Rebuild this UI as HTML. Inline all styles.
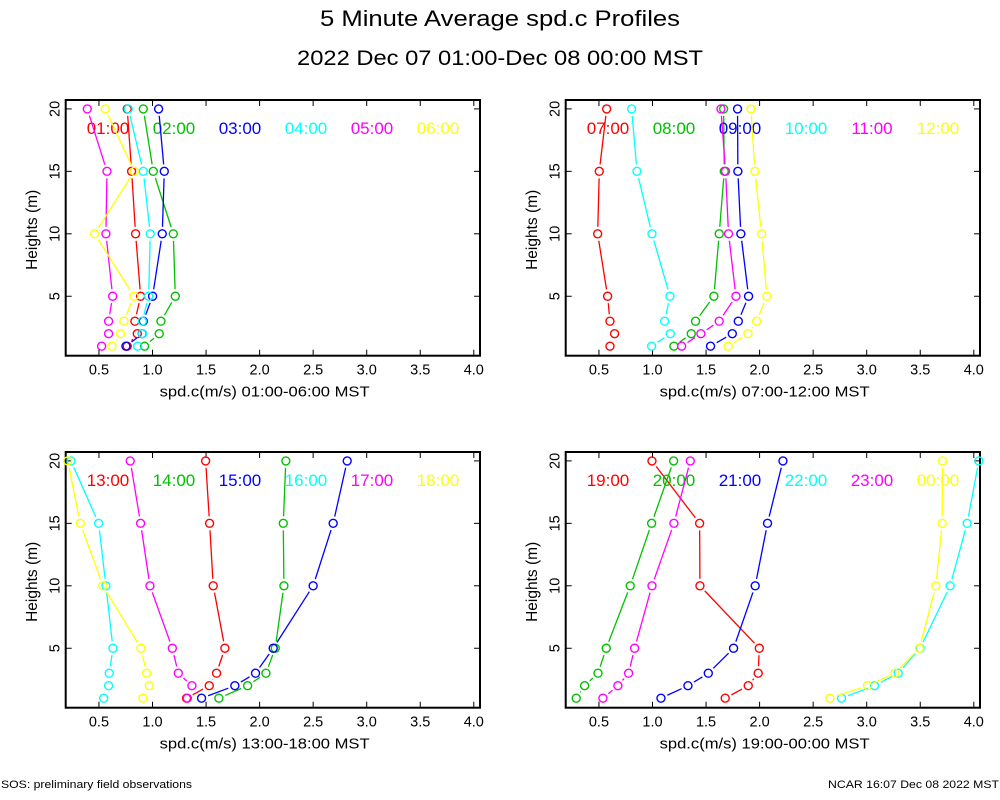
<!DOCTYPE html>
<html><head><meta charset="utf-8">
<style>
html,body{margin:0;padding:0;background:#fff;}
svg{display:block;font-family:"Liberation Sans",sans-serif;}
</style></head>
<body>
<svg id="chart" width="1000" height="800" viewBox="0 0 1000 800" xmlns="http://www.w3.org/2000/svg">
<rect x="0" y="0" width="1000" height="800" fill="#fff"/>
<text x="500" y="26" font-size="22" text-anchor="middle" textLength="360" lengthAdjust="spacingAndGlyphs">5 Minute Average spd.c Profiles</text>
<text x="500" y="65" font-size="21" text-anchor="middle" textLength="406" lengthAdjust="spacingAndGlyphs">2022 Dec 07 01:00-Dec 08 00:00 MST</text>
<text x="1" y="788" font-size="11" textLength="191" lengthAdjust="spacingAndGlyphs">SOS: preliminary field observations</text>
<text x="999" y="788" font-size="11" text-anchor="end" textLength="171" lengthAdjust="spacingAndGlyphs">NCAR 16:07 Dec 08 2022 MST</text>
<g id="plots"></g>
</svg>
<script>
const heights = [1, 2, 3, 5, 10, 15, 20];
const xTicks = [0.5, 1.0, 1.5, 2.0, 2.5, 3.0, 3.5, 4.0];
const xTickLabels = ["0.5", "1.0", "1.5", "2.0", "2.5", "3.0", "3.5", "4.0"];
const yTicks = [5, 10, 15, 20];
const seriesColors = ["#ff0000", "#00c000", "#0000ff", "#00ffff", "#ff00ff", "#ffff00"];

const p1Labels = ["01:00", "02:00", "03:00", "04:00", "05:00", "06:00"];
const p1s1 = [0.764, 0.858, 0.836, 0.889, 0.842, 0.805, 0.764];
const p1s2 = [0.926, 1.063, 1.079, 1.213, 1.194, 1.007, 0.914];
const p1s3 = [0.752, 0.905, 0.914, 1.001, 1.091, 1.110, 1.057];
const p1s4 = [0.861, 0.908, 0.905, 0.964, 0.979, 0.914, 0.774];
const p1s5 = [0.525, 0.590, 0.590, 0.628, 0.565, 0.575, 0.391];
const p1s6 = [0.621, 0.702, 0.733, 0.827, 0.460, 0.830, 0.559];

const p2Labels = ["07:00", "08:00", "09:00", "10:00", "11:00", "12:00"];
const p2s1 = [0.603, 0.646, 0.603, 0.581, 0.488, 0.503, 0.572];
const p2s2 = [1.200, 1.362, 1.402, 1.573, 1.623, 1.670, 1.664];
const p2s3 = [1.542, 1.745, 1.801, 1.897, 1.825, 1.797, 1.794];
const p2s4 = [0.992, 1.166, 1.113, 1.163, 0.995, 0.855, 0.805];
const p2s5 = [1.272, 1.452, 1.623, 1.779, 1.710, 1.682, 1.639];
const p2s6 = [1.707, 1.891, 1.972, 2.068, 2.018, 1.956, 1.919];

const p3Labels = ["13:00", "14:00", "15:00", "16:00", "17:00", "18:00"];
const p3s1 = [1.318, 1.530, 1.598, 1.676, 1.567, 1.533, 1.496];
const p3s2 = [1.620, 1.888, 2.059, 2.146, 2.227, 2.221, 2.245];
const p3s3 = [1.458, 1.769, 1.962, 2.127, 2.500, 2.687, 2.818];
const p3s4 = [0.544, 0.590, 0.596, 0.631, 0.565, 0.497, 0.239];
const p3s5 = [1.325, 1.368, 1.241, 1.185, 0.976, 0.889, 0.792];
const p3s6 = [0.911, 0.970, 0.945, 0.892, 0.537, 0.326, 0.208];

const p4Labels = ["19:00", "20:00", "21:00", "22:00", "23:00", "00:00"];
const p4s1 = [1.679, 1.894, 1.987, 1.997, 1.443, 1.440, 0.995];
const p4s2 = [0.288, 0.366, 0.491, 0.568, 0.792, 0.992, 1.197];
const p4s3 = [1.079, 1.331, 1.521, 1.757, 1.959, 2.074, 2.218];
const p4s4 = [2.765, 3.073, 3.294, 3.499, 3.779, 3.938, 4.047];
const p4s5 = [0.537, 0.677, 0.777, 0.833, 0.995, 1.200, 1.353];
const p4s6 = [2.656, 3.008, 3.263, 3.493, 3.646, 3.705, 3.708];

const panels = [
  {ox:0, oy:0, title:"spd.c(m/s) 01:00-06:00 MST", labels:p1Labels, series:[p1s1,p1s2,p1s3,p1s4,p1s5,p1s6]},
  {ox:500, oy:0, title:"spd.c(m/s) 07:00-12:00 MST", labels:p2Labels, series:[p2s1,p2s2,p2s3,p2s4,p2s5,p2s6]},
  {ox:0, oy:352, title:"spd.c(m/s) 13:00-18:00 MST", labels:p3Labels, series:[p3s1,p3s2,p3s3,p3s4,p3s5,p3s6]},
  {ox:500, oy:352, title:"spd.c(m/s) 19:00-00:00 MST", labels:p4Labels, series:[p4s1,p4s2,p4s3,p4s4,p4s5,p4s6]}
];

const NS = "http://www.w3.org/2000/svg";
const root = document.getElementById("plots");
function mk(tag, attrs, parent){
  const e = document.createElementNS(NS, tag);
  for (const k in attrs) e.setAttribute(k, attrs[k]);
  parent.appendChild(e);
  return e;
}

panels.forEach((p, pi) => {
  const L = 65.7 + p.ox, R = 480 + p.ox, T = 100 + p.oy, B = 355.7 + p.oy;
  const x = v => 45.4 + p.ox + v * 107.1;
  const y = v => 358.7 + p.oy - v * 12.49;
  const g = mk("g", {}, root);
  
  

  xTicks.forEach((t, i) => {
    const X = x(t);
    mk("line", {x1:X, y1:B, x2:X, y2:B-6, stroke:"#000", "stroke-width":1}, g);
    mk("line", {x1:X, y1:T, x2:X, y2:T+6, stroke:"#000", "stroke-width":1}, g);
    const tl = mk("text", {x:X, y:B+19, "font-size":14.5, "text-anchor":"middle"}, g);
    
    
    tl.textContent = xTickLabels[i];
  });
  yTicks.forEach(t => {
    const Y = y(t);
    mk("line", {x1:L, y1:Y, x2:L+6, y2:Y, stroke:"#000", "stroke-width":1}, g);
    mk("line", {x1:R, y1:Y, x2:R-6, y2:Y, stroke:"#000", "stroke-width":1}, g);
    const tl = mk("text", {x:0, y:0, "font-size":14.5, "text-anchor":"middle", transform:`translate(${L-6},${Y}) rotate(-90)`}, g);
    
    
    tl.textContent = String(t);
  });
  const fr = mk("rect", {x:L, y:T, width:R-L, height:B-T, fill:"none", stroke:"#000", "stroke-width":2}, g);
  
  

  const xt = mk("text", {x:x(2.0)+5, y:B+41, "font-size":15, "text-anchor":"middle", textLength:210, lengthAdjust:"spacingAndGlyphs"}, g);
  
  
  xt.textContent = p.title;
  const yt = mk("text", {x:0, y:0, "font-size":15.5, "text-anchor":"middle", transform:`translate(${37+p.ox},${(T+B)/2+2}) rotate(-90)`}, g);
  
  
  yt.textContent = "Heights (m)";

  p.series.forEach((vals, si) => {
    const c = seriesColors[si];
    const sg = mk("g", {}, g);
    
    
    for (let i = 0; i < vals.length - 1; i++) {
      const x1 = x(vals[i]), y1 = y(heights[i]), x2 = x(vals[i+1]), y2 = y(heights[i+1]);
      const d = Math.hypot(x2-x1, y2-y1), gap = 7;
      if (d > 2*gap) {
        const ux = (x2-x1)/d, uy = (y2-y1)/d;
        mk("line", {x1:x1+ux*gap, y1:y1+uy*gap, x2:x2-ux*gap, y2:y2-uy*gap, stroke:c, "stroke-width":1.3}, sg);
      }
    }
    vals.forEach((v, i) => {
      const pt = mk("circle", {cx:x(v), cy:y(heights[i]), r:4, fill:"none", stroke:c, "stroke-width":1.4}, sg);
      
      
    });
    const lb = mk("text", {x:108 + p.ox + si*66, y:T+34, "font-size":17, "text-anchor":"middle", fill:c}, g);
    
    
    lb.textContent = p.labels[si];
  });
});
</script>
</body></html>
